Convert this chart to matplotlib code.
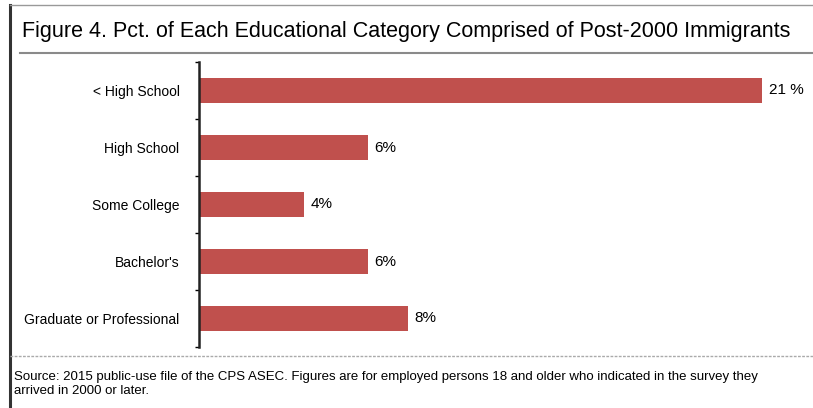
import matplotlib.pyplot as plt
from matplotlib.lines import Line2D

categories = ["< High School", "High School", "Some College", "Bachelor's", "Graduate or Professional"]
values = [21, 6.3, 3.9, 6.3, 7.8]
value_labels = ["21 %", "6%", "4%", "6%", "8%"]

title = "Figure 4. Pct. of Each Educational Category Comprised of Post-2000 Immigrants"
source = ("Source: 2015 public-use file of the CPS ASEC. Figures are for employed persons 18 and older who indicated in the survey they\n"
          "arrived in 2000 or later.")

plt.rcParams['font.family'] = ['Liberation Sans', 'DejaVu Sans']

fig = plt.figure(figsize=(8.13, 4.08), dpi=100)
ax = fig.add_axes([199/813, 1-347/408, (762-199)/813, (347-62)/408])

ypos = list(range(len(categories)))
ax.barh(ypos, values, height=0.44, color='#C0504D')
for y, v, lab in zip(ypos, values, value_labels):
    ax.text(v + 0.25, y, lab, va='center', ha='left', fontsize=11, clip_on=False)

ax.set_xlim(0, 21)
ax.set_ylim(len(categories) - 0.5, -0.5)
ax.set_yticks(ypos)
ax.set_yticklabels(categories, fontsize=10)
ax.tick_params(axis='y', length=0, pad=14)
ax.set_yticks([i + 0.5 for i in range(-1, len(categories))], minor=True)
ax.tick_params(axis='y', which='minor', length=3, direction='out', width=1)
ax.set_xticks([])
for s in ['top', 'right', 'bottom']:
    ax.spines[s].set_visible(False)
ax.spines['left'].set_linewidth(1.8)
ax.spines['left'].set_color('#222222')

# frame and rules
fig.add_artist(Line2D([10/813, 10/813], [0, 1-5/408], color='#333333', lw=2.2))
fig.add_artist(Line2D([10/813, 1], [1-5/408, 1-5/408], color='#999999', lw=1))
fig.add_artist(Line2D([20/813, 1], [1-53/408, 1-53/408], color='#8a8a8a', lw=1.5))
fig.add_artist(Line2D([10/813, 1], [1-356/408, 1-356/408], color='#aaaaaa', lw=1, ls=(0, (2, 1))))

fig.text(22/813, 1-31/408, title, fontsize=15.5, va='center', ha='left')
fig.text(14/813, 1-384/408, source, fontsize=9.5, va='center', ha='left', linespacing=1.25)

fig.savefig('out.png', dpi=100)
